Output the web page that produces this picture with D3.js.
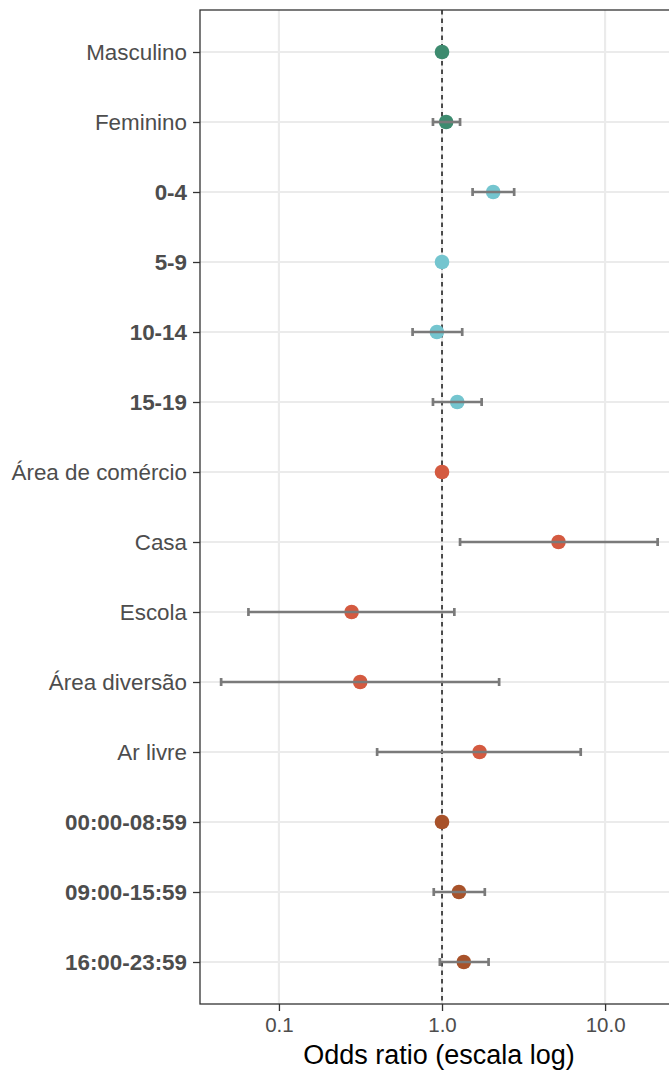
<!DOCTYPE html>
<html>
<head>
<meta charset="utf-8">
<script src="https://cdn.jsdelivr.net/npm/d3@7"></script>
<style>
html,body{margin:0;padding:0;background:#fff;}
svg{display:block;}
</style>
</head>
<body>
<svg id="chart" width="669" height="1072"></svg>
<script>
// ---- data ----
const categories = ["Masculino","Feminino","0-4","5-9","10-14","15-19","Área de comércio","Casa","Escola","Área diversão","Ar livre","00:00-08:59","09:00-15:59","16:00-23:59"];
const oddsRatio = [1.0, 1.06, 2.06, 1.0, 0.93, 1.24, 1.0, 5.18, 0.279, 0.315, 1.70, 1.0, 1.27, 1.36];
const lowerCI   = [null, 0.88, 1.54, null, 0.66, 0.88, null, 1.29, 0.065, 0.0442, 0.40, null, 0.89, 0.97];
const upperCI   = [null, 1.29, 2.77, null, 1.33, 1.75, null, 21.0, 1.19, 2.24, 7.09, null, 1.83, 1.93];
const groups    = ["Sexo","Sexo","Idade","Idade","Idade","Idade","Local","Local","Local","Local","Local","Hora","Hora","Hora"];
const boldLabel = [false,false,true,true,true,true,false,false,false,false,false,true,true,true];
const groupNames  = ["Sexo","Idade","Local","Hora"];
const groupColors = ["#3d8b6f","#74c5cf","#d45a40","#a8522a"];
const xTicks = [0.1, 1, 10];
const xTickLabels = ["0.1","1.0","10.0"];
const xTitle = "Odds ratio (escala log)";

const rows = categories.map((c,i)=>({cat:c, or:oddsRatio[i], lo:lowerCI[i], hi:upperCI[i], g:groups[i], bold:boldLabel[i]}));

// ---- layout ----
const svg = d3.select("#chart");
const pLeft = 200, pTop = 10, pBottom = 1004, pRight = 678;

const x = d3.scaleLog().domain([0.0328, 28]).range([pLeft, pRight]);
const y = d3.scalePoint().domain(categories).range([pTop, pBottom]).padding(0.6);
const color = d3.scaleOrdinal().domain(groupNames).range(groupColors);

svg.append("defs").append("clipPath").attr("id","pclip")
  .append("rect").attr("x",pLeft).attr("y",pTop).attr("width",pRight-pLeft).attr("height",pBottom-pTop);

const panel = svg.append("g").attr("clip-path","url(#pclip)");

// grid
panel.selectAll("line.vg").data(xTicks).enter().append("line")
  .attr("x1",d=>x(d)).attr("x2",d=>x(d)).attr("y1",pTop).attr("y2",pBottom)
  .attr("stroke","#ebebeb").attr("stroke-width",2.2);
panel.selectAll("line.hg").data(categories).enter().append("line")
  .attr("x1",pLeft).attr("x2",pRight).attr("y1",d=>y(d)).attr("y2",d=>y(d))
  .attr("stroke","#ebebeb").attr("stroke-width",2.2);

// reference line
panel.append("line").attr("x1",x(1)).attr("x2",x(1)).attr("y1",pTop).attr("y2",pBottom)
  .attr("stroke","#3a3a3a").attr("stroke-width",1.8).attr("stroke-dasharray","4.5,4");

// points
panel.selectAll("circle.pt").data(rows).enter().append("circle")
  .attr("cx",d=>x(d.or)).attr("cy",d=>y(d.cat)).attr("r",7.3)
  .attr("fill",d=>color(d.g));

// error bars
const eb = rows.filter(d=>d.lo!==null);
const ebG = panel.selectAll("g.eb").data(eb).enter().append("g").attr("stroke","#7a7a7a").attr("stroke-width",2.7);
ebG.append("line").attr("x1",d=>x(d.lo)).attr("x2",d=>x(d.hi)).attr("y1",d=>y(d.cat)).attr("y2",d=>y(d.cat));
ebG.append("line").attr("x1",d=>x(d.lo)).attr("x2",d=>x(d.lo)).attr("y1",d=>y(d.cat)-4).attr("y2",d=>y(d.cat)+4);
ebG.append("line").attr("x1",d=>x(d.hi)).attr("x2",d=>x(d.hi)).attr("y1",d=>y(d.cat)-4).attr("y2",d=>y(d.cat)+4);

// panel border
svg.append("rect").attr("x",pLeft).attr("y",pTop).attr("width",pRight-pLeft).attr("height",pBottom-pTop)
  .attr("fill","none").attr("stroke","#333333").attr("stroke-width",1.3);

// y axis
const yAxis = svg.append("g").attr("transform",`translate(${pLeft},0)`)
  .call(d3.axisLeft(y).tickSize(7).tickPadding(6));
yAxis.select(".domain").remove();
yAxis.selectAll(".tick line").attr("stroke","#333333").attr("stroke-width",1.3);
yAxis.selectAll(".tick text")
  .attr("fill","#4d4d4d")
  .style("font-family","'Liberation Sans', Arial, sans-serif")
  .style("font-size","22.4px")
  .style("font-weight",d=>boldLabel[categories.indexOf(d)]?"bold":"normal");

// x axis
const xAxis = svg.append("g").attr("transform",`translate(0,${pBottom})`)
  .call(d3.axisBottom(x).tickValues(xTicks).tickFormat((d,i)=>xTickLabels[i]).tickSize(7).tickPadding(6));
xAxis.select(".domain").remove();
xAxis.selectAll(".tick line").attr("stroke","#333333").attr("stroke-width",1.3);
xAxis.selectAll(".tick text")
  .attr("fill","#4d4d4d")
  .style("font-family","'Liberation Sans', Arial, sans-serif")
  .style("font-size","20.5px");

// x title
svg.append("text").attr("x",(pLeft+pRight)/2).attr("y",1064).attr("text-anchor","middle")
  .attr("fill","#000")
  .style("font-family","'Liberation Sans', Arial, sans-serif")
  .style("font-size","27px")
  .text(xTitle);
</script>
</body>
</html>
